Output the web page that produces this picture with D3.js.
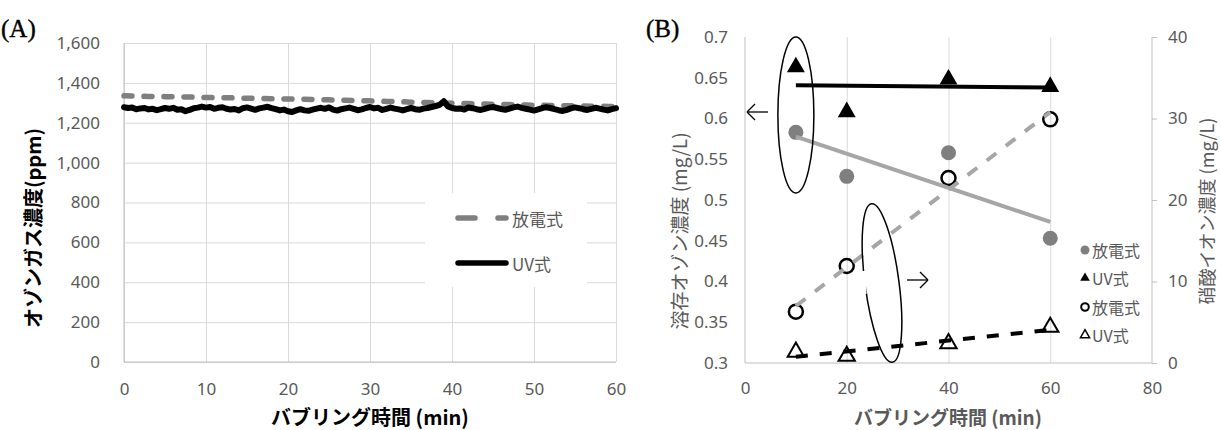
<!DOCTYPE html>
<html>
<head>
<meta charset="utf-8">
<script src="https://cdn.jsdelivr.net/npm/d3@7"></script>
<style>
    body { margin: 0; background: #fff; }
    svg { display: block; }
    .tick text { font-family: "Noto Sans", "Noto Sans CJK JP", sans-serif; font-size: 17px; fill: #595959; }
    .grid line { stroke: #d9d9d9; stroke-width: 1; }
    .grid path { display: none; }
</style>
</head>
<body>
<div id="chart"></div>
<script>
var W = 1221;
var H = 430;
var jp = '"Noto Sans CJK JP", "Noto Sans", sans-serif';

// (A) ozone gas concentration, ppm
var gasStep = 1;       // 放電式 sampled every minute
var gasStepUV = 0.5;   // UV式 sampled every half minute
var gasDischarge = [
    1335, 1334, 1333, 1332, 1332, 1331, 1330, 1329, 1329, 1328,
    1327, 1326, 1326, 1325, 1324, 1323, 1322, 1322, 1321, 1320,
    1319, 1318, 1318, 1317, 1316, 1315, 1314, 1313, 1312, 1311,
    1310, 1308, 1307, 1306, 1305, 1303, 1302, 1301, 1300, 1299,
    1298, 1297, 1296, 1295, 1294, 1293, 1292, 1291, 1290, 1289,
    1288, 1288, 1287, 1286, 1285, 1285, 1284, 1283, 1283, 1282,
    1281
];
var gasUV = [
    1278, 1274, 1276, 1268, 1272, 1274, 1267, 1270, 1263, 1268,
    1274, 1270, 1275, 1265, 1268, 1258, 1264, 1273, 1276, 1281,
    1276, 1279, 1270, 1275, 1278, 1270, 1266, 1269, 1262, 1273,
    1277, 1271, 1265, 1272, 1276, 1280, 1273, 1268, 1262, 1266,
    1258, 1254, 1262, 1268, 1262, 1260, 1266, 1271, 1275, 1270,
    1277, 1266, 1261, 1268, 1272, 1276, 1270, 1263, 1267, 1274,
    1279, 1272, 1275, 1264, 1270, 1276, 1271, 1267, 1262, 1268,
    1274, 1268, 1265, 1271, 1274, 1279, 1284, 1290, 1308, 1282,
    1274, 1270, 1272, 1266, 1277, 1273, 1268, 1264, 1270, 1276,
    1279, 1274, 1269, 1265, 1271, 1277, 1281, 1275, 1270, 1266,
    1261, 1267, 1273, 1278, 1274, 1268, 1263, 1259, 1265, 1272,
    1277, 1273, 1268, 1264, 1270, 1275, 1271, 1266, 1262, 1268,
    1273
];
var gasTicksX = [0, 10, 20, 30, 40, 50, 60];
var gasTicksY = [0, 200, 400, 600, 800, 1000, 1200, 1400, 1600];

// (B) dissolved ozone (left axis) and nitrate ion (right axis)
var bubbleTime = [10, 20, 40, 60];
var ozoneDischarge = [0.583, 0.529, 0.558, 0.453];
var ozoneUV = [0.663, 0.608, 0.648, 0.639];
var nitrateDischarge = [6.3, 11.9, 22.7, 29.9];
var nitrateUV = [1.35, 0.85, 2.4, 4.4];
var bTicksX = [0, 20, 40, 60, 80];
var bTicksLeft = [0.3, 0.35, 0.4, 0.45, 0.5, 0.55, 0.6, 0.65, 0.7];
var bTicksRight = [0, 10, 20, 30, 40];
var seriesNames = ['放電式', 'UV式', '放電式', 'UV式'];

var svg = d3.select('#chart').append('svg').attr('width', W).attr('height', H);
svg.append('rect').attr('width', W).attr('height', H).attr('fill', '#fff');

drawChartA();
drawChartB();

function drawChartA() {
    var x = d3.scaleLinear().domain([0, 60]).range([124, 616]);
    var y = d3.scaleLinear().domain([0, 1600]).range([362, 43]);

    svg.append('g').attr('class', 'grid').attr('transform', 'translate(124,0)')
        .call(d3.axisLeft(y).tickValues(gasTicksY).tickSize(-(616 - 124)).tickFormat(''));
    svg.append('g').attr('class', 'grid').attr('transform', 'translate(0,362)')
        .call(d3.axisBottom(x).tickValues(gasTicksX).tickSize(-(362 - 43)).tickFormat(''));

    drawLine(svg, 124, 43, 124, 362, '#bfbfbf', 1);
    drawLine(svg, 124, 362, 616, 362, '#bfbfbf', 1);

    var yAxis = svg.append('g').attr('transform', 'translate(124,0)')
        .call(d3.axisLeft(y).tickValues(gasTicksY).tickSize(0).tickPadding(24).tickFormat(d3.format(',')));
    yAxis.select('.domain').remove();
    var xAxis = svg.append('g').attr('transform', 'translate(0,362)')
        .call(d3.axisBottom(x).tickValues(gasTicksX).tickSize(0).tickPadding(21));
    xAxis.select('.domain').remove();

    var lineD = d3.line().x(function (d, i) { return x(i * gasStep); }).y(function (d) { return y(d); });
    var lineU = d3.line().x(function (d, i) { return x(i * gasStepUV); }).y(function (d) { return y(d); });

    svg.append('path').attr('d', lineD(gasDischarge)).attr('fill', 'none')
        .attr('stroke', '#7f7f7f').attr('stroke-width', 5.5)
        .attr('stroke-dasharray', '8,12').attr('stroke-linecap', 'round');
    svg.append('path').attr('d', lineU(gasUV)).attr('fill', 'none')
        .attr('stroke', '#000').attr('stroke-width', 6)
        .attr('stroke-linejoin', 'round').attr('stroke-linecap', 'round');

    // legend
    svg.append('rect').attr('x', 425).attr('y', 193).attr('width', 162).attr('height', 94).attr('fill', '#fff');
    drawLine(svg, 458, 218, 506, 218, '#7f7f7f', 5.5).attr('stroke-dasharray', '17,23').attr('stroke-linecap', 'round');
    writeText(svg, 512, 218, seriesNames[0], '#595959', 17).attr('text-anchor', 'start');
    drawLine(svg, 458, 263, 506, 263, '#000', 5.5).attr('stroke-linecap', 'round');
    writeText(svg, 512, 263, seriesNames[1], '#595959', 17).attr('text-anchor', 'start');

    writeText(svg, 32, 228, 'オゾンガス濃度(ppm)', '#000', 20)
        .attr('font-weight', 'bold').attr('transform', 'rotate(-90,32,228)');
    writeText(svg, 370, 416, 'バブリング時間 (min)', '#000', 20).attr('font-weight', 'bold');

    svg.append('text').attr('x', 1).attr('y', 37).text('(A)')
        .attr('font-family', '"Liberation Serif", serif').attr('font-size', 25).attr('fill', '#000')
        .attr('stroke', '#000').attr('stroke-width', 0.4);
}

function drawChartB() {
    var x = d3.scaleLinear().domain([0, 80]).range([745, 1152]);
    var yL = d3.scaleLinear().domain([0.3, 0.7]).range([363, 37]);
    var yR = d3.scaleLinear().domain([0, 40]).range([363, 37]);

    svg.append('g').attr('class', 'grid').attr('transform', 'translate(0,363)')
        .call(d3.axisBottom(x).tickValues([20, 40, 60]).tickSize(-(363 - 37)).tickFormat(''));

    drawLine(svg, 745, 37, 745, 363, '#bfbfbf', 1);
    drawLine(svg, 745, 363, 1152, 363, '#bfbfbf', 1);
    drawLine(svg, 1152, 37, 1152, 363, '#bfbfbf', 1);

    var left = svg.append('g').attr('transform', 'translate(745,0)')
        .call(d3.axisLeft(yL).tickValues(bTicksLeft).tickSize(0).tickPadding(17).tickFormat(function (d) { return String(d); }));
    left.select('.domain').remove();
    var right = svg.append('g').attr('transform', 'translate(1152,0)')
        .call(d3.axisRight(yR).tickValues(bTicksRight).tickSize(5).tickPadding(11));
    right.select('.domain').remove();
    right.selectAll('.tick line').attr('stroke', '#bfbfbf');
    var bottom = svg.append('g').attr('transform', 'translate(0,363)')
        .call(d3.axisBottom(x).tickValues(bTicksX).tickSize(0).tickPadding(19));
    bottom.select('.domain').remove();

    // markers
    var triBig = d3.symbol().type(d3.symbolTriangle).size(140);
    var triOpen = d3.symbol().type(d3.symbolTriangle).size(115);

    svg.selectAll('.m-od').data(ozoneDischarge).enter().append('circle')
        .attr('cx', function (d, i) { return x(bubbleTime[i]); }).attr('cy', function (d) { return yL(d); })
        .attr('r', 7.5).attr('fill', '#7f7f7f');
    svg.selectAll('.m-ou').data(ozoneUV).enter().append('path')
        .attr('d', triBig).attr('fill', '#000')
        .attr('transform', function (d, i) { return 'translate(' + x(bubbleTime[i]) + ',' + yL(d) + ')'; });
    svg.selectAll('.m-nd').data(nitrateDischarge).enter().append('circle')
        .attr('cx', function (d, i) { return x(bubbleTime[i]); }).attr('cy', function (d) { return yR(d); })
        .attr('r', 7).attr('fill', 'none').attr('stroke', '#000').attr('stroke-width', 2.5);
    svg.selectAll('.m-nu').data(nitrateUV).enter().append('path')
        .attr('d', triOpen).attr('fill', 'none').attr('stroke', '#000').attr('stroke-width', 2)
        .attr('transform', function (d, i) { return 'translate(' + x(bubbleTime[i]) + ',' + yR(d) + ')'; });

    // linear trend lines
    drawTrend(x, yL, ozoneDischarge, '#a6a6a6', null);
    drawTrend(x, yL, ozoneUV, '#000', null);
    drawTrend(x, yR, nitrateDischarge, '#a6a6a6', '12,12');
    drawTrend(x, yR, nitrateUV, '#000', '12,12');

    // annotations
    svg.append('ellipse').attr('cx', x(10)).attr('cy', 115).attr('rx', 18).attr('ry', 78)
        .attr('fill', 'none').attr('stroke', '#000').attr('stroke-width', 1.5);
    svg.append('ellipse').attr('cx', 0).attr('cy', 0).attr('rx', 17).attr('ry', 80)
        .attr('transform', 'translate(882,283) rotate(-7.5)')
        .attr('fill', 'none').attr('stroke', '#000').attr('stroke-width', 1.5);
    drawLine(svg, 864, 271, 864, 294, '#fff', 5);
    drawArrow(747, 768, 112, -1);
    drawArrow(907, 928, 280, 1);

    // legend
    var lx = 1085;
    var ly = [250, 278, 307, 335];
    svg.append('circle').attr('cx', lx).attr('cy', ly[0]).attr('r', 4.5).attr('fill', '#7f7f7f');
    svg.append('path').attr('d', d3.symbol().type(d3.symbolTriangle).size(40)).attr('fill', '#000')
        .attr('transform', 'translate(' + lx + ',' + ly[1] + ')');
    svg.append('circle').attr('cx', lx).attr('cy', ly[2]).attr('r', 3.8).attr('fill', 'none')
        .attr('stroke', '#000').attr('stroke-width', 2);
    svg.append('path').attr('d', d3.symbol().type(d3.symbolTriangle).size(36)).attr('fill', 'none')
        .attr('stroke', '#000').attr('stroke-width', 1.5)
        .attr('transform', 'translate(' + lx + ',' + ly[3] + ')');
    for (var i = 0; i < seriesNames.length; i++) {
        writeText(svg, lx + 7, ly[i], seriesNames[i], '#595959', 16).attr('text-anchor', 'start');
    }

    writeText(svg, 678, 231, '溶存オゾン濃度 (mg/L)', '#595959', 19)
        .attr('transform', 'rotate(-90,678,231)');
    writeText(svg, 1206, 211, '硝酸イオン濃度 (mg/L)', '#595959', 18)
        .attr('transform', 'rotate(-90,1206,211)');
    writeText(svg, 948, 416, 'バブリング時間 (min)', '#595959', 19).attr('font-weight', 'bold');

    svg.append('text').attr('x', 646).attr('y', 37).text('(B)')
        .attr('font-family', '"Liberation Serif", serif').attr('font-size', 25).attr('fill', '#000')
        .attr('stroke', '#000').attr('stroke-width', 0.4);
}

function drawTrend(x, y, values, color, dash) {
    var mx = d3.mean(bubbleTime);
    var my = d3.mean(values);
    var sxy = d3.sum(bubbleTime, function (t, i) { return (t - mx) * (values[i] - my); });
    var sxx = d3.sum(bubbleTime, function (t) { return (t - mx) * (t - mx); });
    var slope = sxy / sxx;
    var t0 = d3.min(bubbleTime);
    var t1 = d3.max(bubbleTime);
    var ln = drawLine(svg, x(t0), y(my + slope * (t0 - mx)), x(t1), y(my + slope * (t1 - mx)), color, 4);
    if (dash) ln.attr('stroke-dasharray', dash);
    return ln;
}

function drawArrow(x1, x2, yy, dir) {
    drawLine(svg, x1, yy, x2, yy, '#000', 1.3);
    var tip = dir < 0 ? x1 : x2;
    drawLine(svg, tip, yy, tip - dir * 8, yy - 8, '#000', 1.3);
    drawLine(svg, tip, yy, tip - dir * 8, yy + 8, '#000', 1.3);
}

function writeText(section, x, y, text, color, size) {
    return section.append('text').attr('x', x).attr('y', y).text(text)
        .attr('dominant-baseline', 'central').attr('text-anchor', 'middle')
        .attr('fill', color).attr('font-size', size).attr('font-family', jp);
}

function drawLine(section, x1, y1, x2, y2, stroke, strokeWidth) {
    return section.append('line').attr('x1', x1).attr('y1', y1).attr('x2', x2).attr('y2', y2)
        .attr('stroke', stroke).attr('stroke-width', strokeWidth);
}
</script>
</body>
</html>
